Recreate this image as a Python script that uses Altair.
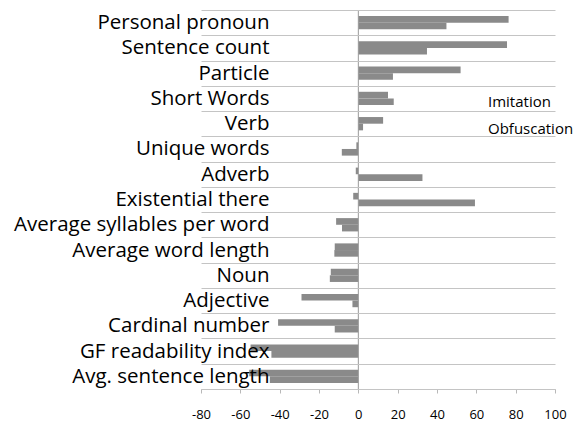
import altair as alt
import pandas as pd

categories = [
    "Personal pronoun", "Sentence count", "Particle", "Short Words", "Verb",
    "Unique words", "Adverb", "Existential there", "Average syllables per word",
    "Average word length", "Noun", "Adjective", "Cardinal number",
    "GF readability index", "Avg. sentence length",
]
imitation = [76.4, 75.6, 52.0, 15.1, 12.6, -1.0, -1.3, -2.6, -11.3, -12.0,
             -14.0, -28.9, -40.8, -54.8, -55.5]
obfuscation = [44.8, 34.9, 17.6, 18.0, 2.4, -8.4, 32.6, 59.3, -8.3, -12.2,
               -14.5, -3.0, -12.0, -44.2, -45.0]
series = ["Imitation", "Obfuscation"]
x_ticks = [-80, -60, -40, -20, 0, 20, 40, 60, 80, 100]

rows = []
for c, a, b in zip(categories, imitation, obfuscation):
    rows.append({"category": c, "series": series[0], "value": a})
    rows.append({"category": c, "series": series[1], "value": b})
df = pd.DataFrame(rows)

FONT = "Open Sans"
BAR = "#8a8a8a"


def x_axis():
    return alt.Axis(values=x_ticks, title=None, grid=False,
                    domainColor="#b8b8b8", tickColor="#b8b8b8",
                    tickSize=4, labelFont=FONT, labelFontSize=13,
                    labelColor="#000000", labelPadding=15,
                    labelOverlap=False, labelFlush=False,
                    labelExpr="toString(datum.value)")


x_scale = alt.Scale(domain=[-80, 100], nice=False, zero=False)

bars = alt.Chart(df).mark_bar(color=BAR).encode(
    x=alt.X("value:Q", scale=x_scale, axis=x_axis()),
    y=alt.Y("category:N", sort=categories,
            scale=alt.Scale(paddingInner=0, paddingOuter=0),
            axis=alt.Axis(title=None, ticks=False, tickSize=0, domain=False,
                          grid=True, gridColor="#c4c4c4", tickBand="extent",
                          labelFont=FONT, labelFontSize=20.5, labelColor="#000000",
                          labelPadding=-68, labelLimit=0, zindex=1)),
    yOffset=alt.YOffset("series:N", sort=series,
                        scale=alt.Scale(paddingOuter=0.9, paddingInner=0)),
    color=alt.Color("series:N", sort=series,
                    scale=alt.Scale(domain=series, range=[BAR, BAR]),
                    legend=alt.Legend(title=None, orient="none",
                                      legendX=259, legendY=77,
                                      fillColor="white", padding=7,
                                      symbolOpacity=0, symbolStrokeWidth=0,
                                      symbolSize=100, symbolType="square",
                                      labelOffset=6, rowPadding=11,
                                      labelFont=FONT, labelFontSize=15,
                                      labelColor="#000000", labelLimit=0)),
)

zero = alt.Chart(pd.DataFrame({"value": [0]})).mark_rule(
    color="#999999", strokeWidth=1
).encode(x=alt.X("value:Q", scale=x_scale, axis=x_axis()))

chart = alt.layer(bars, zero).properties(
    width=354, height=379,
    autosize=alt.AutoSizeParams(type="none"),
    padding={"left": 193, "top": 2, "right": 24, "bottom": 33},
).configure_view(stroke=None)

chart.save("out.html", embed_options={"renderer": "svg", "actions": False})
